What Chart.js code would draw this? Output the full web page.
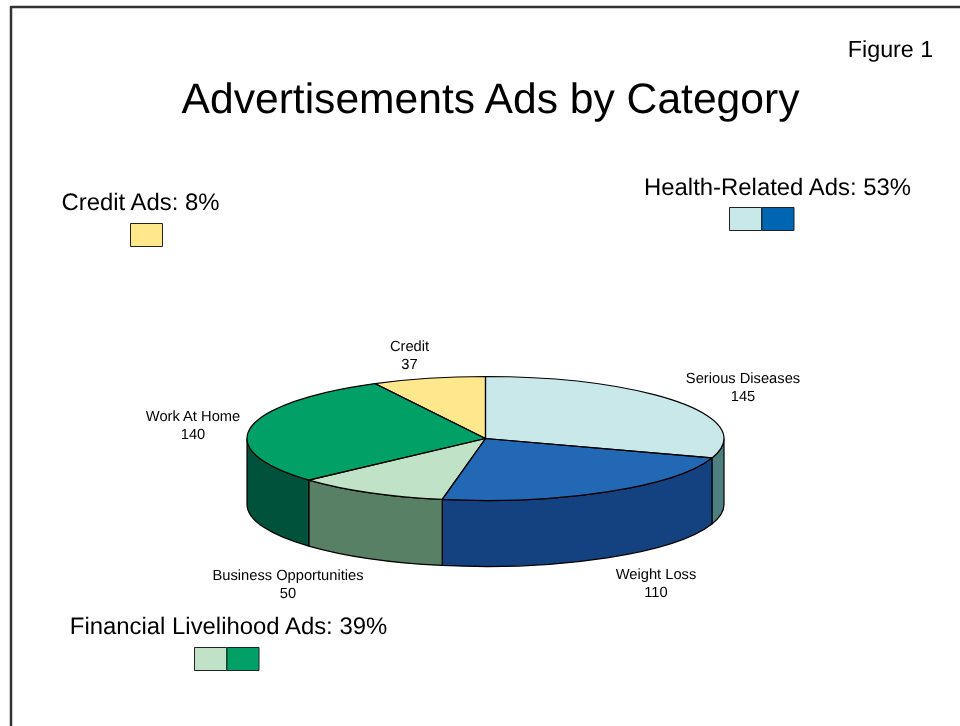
<!DOCTYPE html>
<html>
<head>
<meta charset="utf-8">
<title>Advertisements Ads by Category</title>
<script src="https://cdn.jsdelivr.net/npm/chart.js@4"></script>
<style>
  html, body { margin: 0; padding: 0; background: #fff; }
  canvas { display: block; }
</style>
</head>
<body>
<canvas id="pie" width="960" height="726"></canvas>
<script>
// Ad counts per category
const categories = ['Serious Diseases', 'Weight Loss', 'Business Opportunities', 'Work At Home', 'Credit'];
const adCounts = [145, 110, 50, 140, 37];

// Slice colours: top face and rim
const topColors = ['#C8E8EA', '#2268B4', '#C0E2C7', '#00A067', '#FFE78C'];
const rimColors = ['#4F8080', '#14417F', '#588065', '#00523A', '#8C7F4D'];

// Where each slice caption is centred
const captionAnchors = [[743, 378.7], [656, 574.7], [288, 575.7], [193, 416.7], [409.5, 346.7]];

// Group call-outs above and below the pie
const groups = [
  { text: 'Credit Ads: 8%', x: 140.5, y: 203.8, swatches: ['#FFE78C'], sx: 130, sy: 223 },
  { text: 'Health-Related Ads: 53%', x: 777.5, y: 188.5, swatches: ['#C8E8EA', '#0066B3'], sx: 729, sy: 207 },
  { text: 'Financial Livelihood Ads: 39%', x: 228.5, y: 627.8, swatches: ['#C0E2C7', '#00A067'], sx: 194, sy: 647 }
];

const FONT = '"Liberation Sans", Arial, sans-serif';
const SQUASH = 62 / 238.5; // vertical foreshortening of the disc
const DEPTH = 66;          // rim height in pixels

// Squashes the pie controller's circle into an ellipse and adds the rim and outlines
const tiltedDisc = {
  id: 'tiltedDisc',
  beforeDatasetsDraw(chart) {
    const ctx = chart.ctx;
    const arcs = chart.getDatasetMeta(0).data;
    const { x: cx, y: cy, outerRadius: rx } = arcs[0];
    const ry = rx * SQUASH;

    // Rim: only the part of each slice that faces the viewer
    arcs.forEach((arc, i) => {
      const a = Math.max(arc.startAngle, 0);
      const b = Math.min(arc.endAngle, Math.PI);
      if (b <= a) return;
      ctx.beginPath();
      ctx.ellipse(cx, cy, rx, ry, 0, a, b);
      ctx.ellipse(cx, cy + DEPTH, rx, ry, 0, b, a, true);
      ctx.closePath();
      ctx.fillStyle = rimColors[i];
      ctx.fill();
      ctx.strokeStyle = '#000';
      ctx.lineWidth = 1.2;
      ctx.stroke();
    });

    ctx.save();
    ctx.translate(cx, cy);
    ctx.scale(1, SQUASH);
    ctx.translate(-cx, -cy);
  },
  afterDatasetsDraw(chart) {
    const ctx = chart.ctx;
    ctx.restore();
    const arcs = chart.getDatasetMeta(0).data;
    const { x: cx, y: cy, outerRadius: rx } = arcs[0];
    const ry = rx * SQUASH;

    // Top-face outlines at an even stroke width
    ctx.strokeStyle = '#000';
    ctx.lineWidth = 1.2;
    ctx.lineJoin = 'round';
    arcs.forEach(arc => {
      ctx.beginPath();
      ctx.moveTo(cx, cy);
      ctx.ellipse(cx, cy, rx, ry, 0, arc.startAngle, arc.endAngle);
      ctx.closePath();
      ctx.stroke();
    });
  }
};

// Frame, heading, slice captions and group call-outs
const annotations = {
  id: 'annotations',
  afterDraw(chart) {
    const ctx = chart.ctx;
    ctx.save();

    ctx.strokeStyle = '#333';
    ctx.lineWidth = 2.5;
    ctx.beginPath();
    ctx.moveTo(11, 726);
    ctx.lineTo(11, 7);
    ctx.lineTo(960, 7);
    ctx.stroke();

    ctx.fillStyle = '#000';
    ctx.textAlign = 'center';
    ctx.textBaseline = 'middle';
    ctx.textRendering = 'geometricPrecision';

    ctx.font = '23.3px ' + FONT;
    ctx.fillText('Figure 1', 890.5, 51);
    ctx.font = '42.6px ' + FONT;
    ctx.fillText('Advertisements Ads by Category', 490.5, 101);

    ctx.font = '14.7px ' + FONT;
    categories.forEach((name, i) => {
      const [x, y] = captionAnchors[i];
      ctx.fillText(name, x, y);
      ctx.fillText(String(adCounts[i]), x, y + 18);
    });

    groups.forEach(g => {
      ctx.font = '23.9px ' + FONT;
      ctx.fillStyle = '#000';
      ctx.fillText(g.text, g.x, g.y);
      g.swatches.forEach((color, i) => {
        ctx.fillStyle = color;
        ctx.fillRect(g.sx + i * 32.5, g.sy, 32.5, 24);
        ctx.strokeStyle = '#222';
        ctx.lineWidth = 1;
        ctx.strokeRect(g.sx + i * 32.5 + 0.5, g.sy + 0.5, 32, 23);
      });
    });

    ctx.restore();
  }
};

new Chart(document.getElementById('pie'), {
  type: 'pie',
  data: {
    labels: categories,
    datasets: [{
      data: adCounts,
      backgroundColor: topColors,
      borderWidth: 0
    }]
  },
  options: {
    responsive: false,
    animation: false,
    events: [],
    // The padding leaves a 477px square centred on the disc
    layout: { padding: { left: 247, right: 236, top: 200, bottom: 49 } },
    plugins: {
      legend: { display: false },
      tooltip: { enabled: false },
      title: { display: false }
    }
  },
  plugins: [tiltedDisc, annotations]
});
</script>
</body>
</html>
